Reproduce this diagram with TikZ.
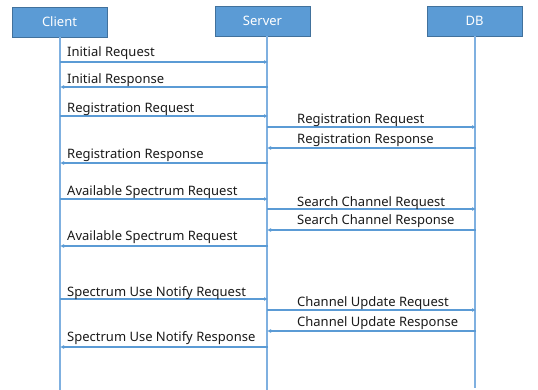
\documentclass[tikz,border=0pt]{standalone}
\usepackage{fontspec}
\setmainfont{Noto Sans}
\usetikzlibrary{arrows.meta}
\definecolor{boxfill}{HTML}{5B9BD5}
\definecolor{boxdraw}{HTML}{41719C}
\definecolor{lineblue}{HTML}{5B9BD5}
\definecolor{lifeblue}{HTML}{7FB0E0}
\definecolor{txt}{HTML}{1A1A1A}
\tikzset{
  actor/.style={draw=boxdraw, line width=0.8pt, fill=boxfill, text=white, inner sep=0pt, font=\fontsize{13}{15}\selectfont},
  life/.style={draw=lifeblue, line width=1.2pt},
  msg/.style={draw=lineblue, line width=1.3pt, -{Latex[length=4pt,width=4pt]}},
  lbl/.style={text=txt, anchor=base west, inner sep=0pt, font=\fontsize{13}{15}\selectfont},
}
\begin{document}
\begin{tikzpicture}[x=1pt,y=-1pt]
\useasboundingbox (0,0) rectangle (538,390);
% actors
\node[actor, minimum width=95pt, minimum height=30pt] (client) at (59.5,22) {Client};
\node[actor, minimum width=95pt, minimum height=30pt] (server) at (262.5,21) {Server};
\node[actor, minimum width=95pt, minimum height=30pt] (db) at (474.5,21) {DB};
% lifeline ends
\coordinate (cEnd) at (60,390);
\coordinate (sEnd) at (267,390);
\coordinate (dEnd) at (475,388);
\coordinate (cTop) at (60,37);
\coordinate (sTop) at (267,36);
\coordinate (dTop) at (475,36);
\draw[life] (cTop) -- (cEnd);
\draw[life] (sTop) -- (sEnd);
\draw[life] (dTop) -- (dEnd);
% message endpoints
\foreach \n/\y in {m1/62, m2/87, m3/116, m6/163, m7/199, m10/246, m11/299, m14/347}{
  \coordinate (c\n) at (60,\y);
  \coordinate (s\n) at (268,\y);
}
\foreach \n/\y in {m4/127, m5/148, m8/209, m9/230, m12/310, m13/331}{
  \coordinate (s\n) at (267,\y);
  \coordinate (d\n) at (476,\y);
}
% client <-> server
\draw[msg] (cm1) -- (sm1);
\node[lbl] (l1) at (67,56.5) {Initial Request};
\draw[msg] (sm2) -- (cm2);
\node[lbl] (l2) at (67,83.5) {Initial Response};
\draw[msg] (cm3) -- (sm3);
\node[lbl] (l3) at (67,112.5) {Registration Request};
\draw[msg] (sm4) -- (dm4);
\node[lbl] (l4) at (297,123.5) {Registration Request};
\draw[msg] (dm5) -- (sm5);
\node[lbl] (l5) at (297,143.5) {Registration Response};
\draw[msg] (sm6) -- (cm6);
\node[lbl] (l6) at (67,158.5) {Registration Response};
\draw[msg] (cm7) -- (sm7);
\node[lbl] (l7) at (67,195.5) {Available Spectrum Request};
\draw[msg] (sm8) -- (dm8);
\node[lbl] (l8) at (297,206.5) {Search Channel Request};
\draw[msg] (dm9) -- (sm9);
\node[lbl] (l9) at (297,224.5) {Search Channel Response};
\draw[msg] (sm10) -- (cm10);
\node[lbl] (l10) at (67,240.5) {Available Spectrum Request};
\draw[msg] (cm11) -- (sm11);
\node[lbl] (l11) at (67,296.5) {Spectrum Use Notify Request};
\draw[msg] (sm12) -- (dm12);
\node[lbl] (l12) at (297,306.5) {Channel Update Request};
\draw[msg] (dm13) -- (sm13);
\node[lbl] (l13) at (297,326.5) {Channel Update Response};
\draw[msg] (sm14) -- (cm14);
\node[lbl] (l14) at (67,341.5) {Spectrum Use Notify Response};
\end{tikzpicture}
\end{document}
